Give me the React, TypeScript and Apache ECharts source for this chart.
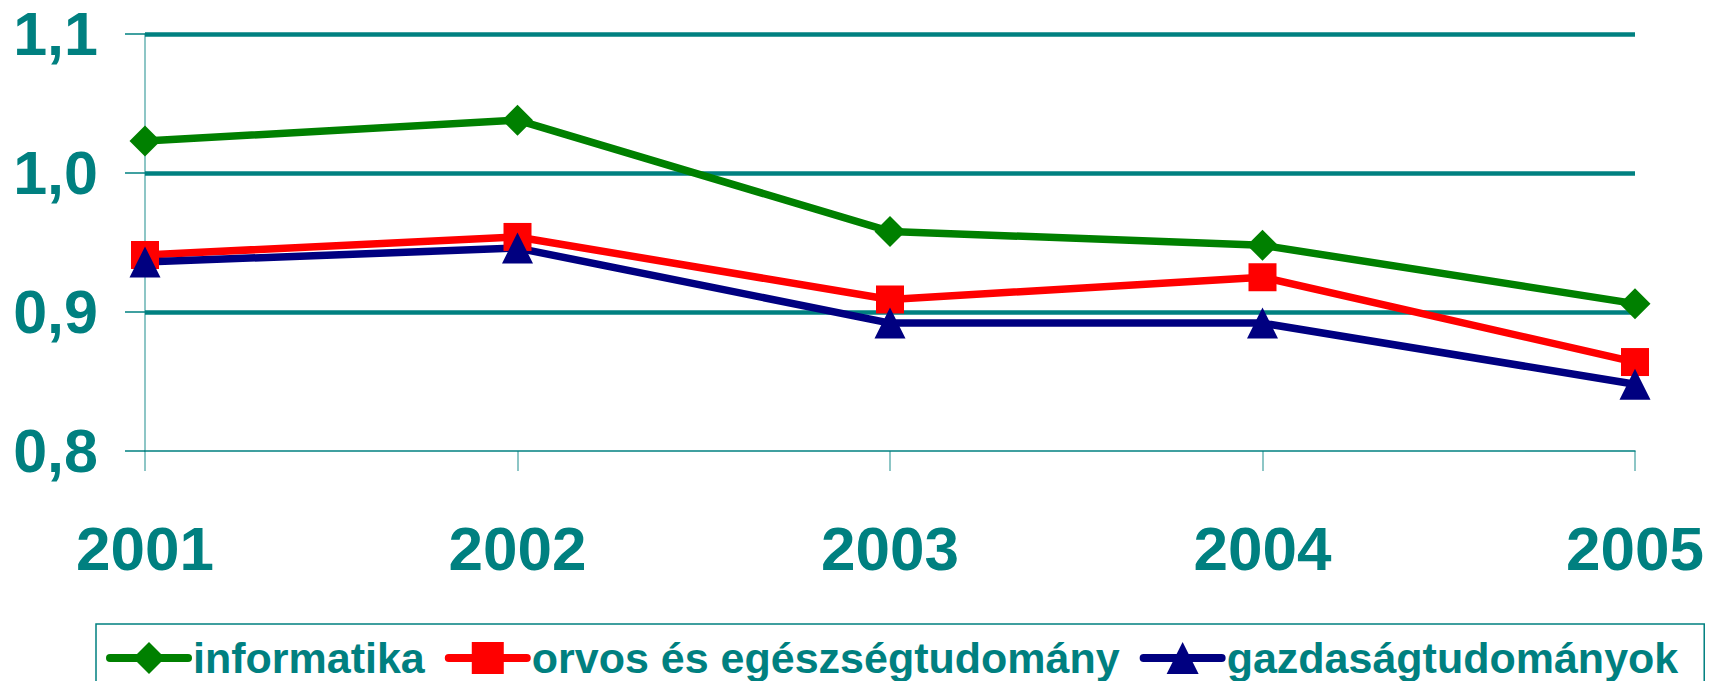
import React, { useEffect, useRef } from "react";
import * as echarts from "echarts";

const years = ["2001", "2002", "2003", "2004", "2005"];
const informatika = [1.023, 1.038, 0.958, 0.948, 0.906];
const orvos = [0.941, 0.954, 0.909, 0.925, 0.864];
const gazdasag = [0.936, 0.946, 0.892, 0.892, 0.848];
const seriesNames = ["informatika", "orvos és egészségtudomány", "gazdaságtudományok"];
const yTicks = [0.8, 0.9, 1.0, 1.1];

const TEAL = "#008080";
const FONT = "'Liberation Sans', Arial, sans-serif";

export default function App() {
  const ref = useRef<HTMLDivElement>(null);
  useEffect(() => {
    if (!ref.current) return;
    const chart = echarts.init(ref.current, undefined, { renderer: "svg" });
    const mk = (name: string, data: number[], color: string, symbol: string, size: number) => ({
      name,
      type: "line",
      data,
      symbol,
      symbolSize: size,
      showSymbol: true,
      lineStyle: { color, width: 7.5 },
      itemStyle: { color, borderWidth: 0 },
      z: 5,
    });
    chart.setOption({
      animation: false,
      backgroundColor: "#ffffff",
      grid: { left: 145, right: 78, top: 34, bottom: 230, containLabel: false },
      xAxis: {
        type: "category",
        data: years,
        boundaryGap: false,
        axisLine: { show: true, lineStyle: { color: TEAL, width: 1.5 } },
        axisTick: { show: true, length: 20, alignWithLabel: true, lineStyle: { color: TEAL, width: 1.5, opacity: 0.6 } },
        axisLabel: {
          color: TEAL,
          fontSize: 62,
          fontWeight: "bold",
          fontFamily: FONT,
          margin: 66,
        },
        splitLine: { show: false },
      },
      yAxis: {
        type: "value",
        min: yTicks[0],
        max: yTicks[yTicks.length - 1],
        interval: 0.1,
        axisLine: { show: true, lineStyle: { color: TEAL, width: 1.5, opacity: 0.6 } },
        axisTick: { show: true, length: 20, lineStyle: { color: TEAL, width: 1.5 } },
        axisLabel: {
          color: TEAL,
          fontSize: 61,
          fontWeight: "bold",
          fontFamily: FONT,
          lineHeight: 44,
          margin: 47,
          formatter: (v: number) => v.toFixed(1).replace(".", ","),
        },
        splitLine: { show: true, showMinLine: false, lineStyle: { color: TEAL, width: 4.5 } },
      },
      legend: {
        data: seriesNames,
        left: 96,
        top: 624,
        orient: "horizontal",
        padding: [9, 26, 40, 10],
        borderColor: TEAL,
        borderWidth: 1.5,
        itemWidth: 78,
        itemHeight: 40,
        itemGap: 20,
        textStyle: {
          color: TEAL,
          fontSize: 43,
          fontWeight: "bold",
          fontFamily: FONT,
          lineHeight: 50,
        },
        lineStyle: { width: 8, cap: "round" },
      },
      series: [
        mk(seriesNames[0], informatika, "#008000", "diamond", 31),
        mk(seriesNames[1], orvos, "#ff0000", "rect", 28),
        mk(seriesNames[2], gazdasag, "#000080", "triangle", 31),
      ],
    });
    return () => chart.dispose();
  }, []);
  return (
    <div
      ref={ref}
      style={{ position: "fixed", left: 0, top: 0, width: 1713, height: 681, background: "#fff" }}
    />
  );
}
